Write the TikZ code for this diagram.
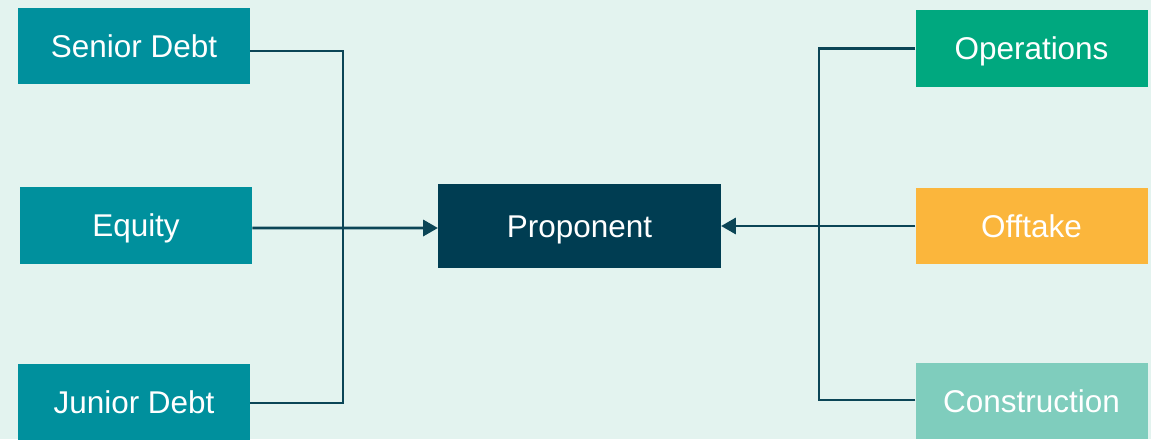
\documentclass[tikz,border=0pt]{standalone}
\usepackage{fontspec}
\setmainfont{Liberation Sans}
\usetikzlibrary{arrows.meta}
\definecolor{bgmint}{HTML}{E3F3EF}
\definecolor{fundteal}{HTML}{00909D}
\definecolor{hubnavy}{HTML}{003D52}
\definecolor{opsgreen}{HTML}{00A87F}
\definecolor{offamber}{HTML}{FBB63C}
\definecolor{conmint}{HTML}{7FCDBD}
\definecolor{linknavy}{HTML}{0B4556}
\begin{document}
\begin{tikzpicture}[x=0.75pt,y=0.75pt]
		\tikzstyle{every node}+=[inner sep=0pt, text=white, font=\fontsize{23.6}{28}\selectfont, text height=16.9pt, text depth=0pt]
		\tikzstyle{party}=[minimum width=174pt, minimum height=57.5pt]
		\tikzstyle{link}=[linknavy, line width=2.1pt]
		\tikzstyle{feed}=[link, -{Triangle[length=11pt,width=12pt]}]
		\useasboundingbox (0,0) rectangle (1151,-439);
		\fill [bgmint] (0,0) rectangle (1151,-439);
		% funding side
		\node [party, fill=fundteal] (senior) at (134,-46) {Senior Debt};
		\node [party, fill=fundteal] (equity) at (136,-225.5) {Equity};
		\node [party, fill=fundteal] (junior) at (134,-402) {Junior Debt};
		% project company
		\node [fill=hubnavy, minimum width=212pt, minimum height=63pt] (proponent) at (579.5,-226) {Proponent};
		% contract side
		\node [party, fill=opsgreen] (operations) at (1031.5,-48.5) {Operations};
		\node [party, fill=offamber] (offtake) at (1031.5,-226) {Offtake};
		\node [party, fill=conmint] (construction) at (1031.5,-401) {Construction};
		\coordinate (ljoin) at (343,-228);
		\coordinate (rjoin) at (819,-226);
		\draw [link] ([yshift=-3.75pt]senior.east) -| (ljoin);
		\draw [link] ([yshift=-0.75pt]junior.east) -| (ljoin);
		\draw [feed] ([yshift=-1.9pt]equity.east) -- ([yshift=-1.5pt]proponent.west);
		\draw [link] (operations.west) -| (rjoin);
		\draw [link] ([yshift=0.75pt]construction.west) -| (rjoin);
		\draw [feed] (offtake.west) -- (proponent.east);
	\end{tikzpicture}
\end{document}
